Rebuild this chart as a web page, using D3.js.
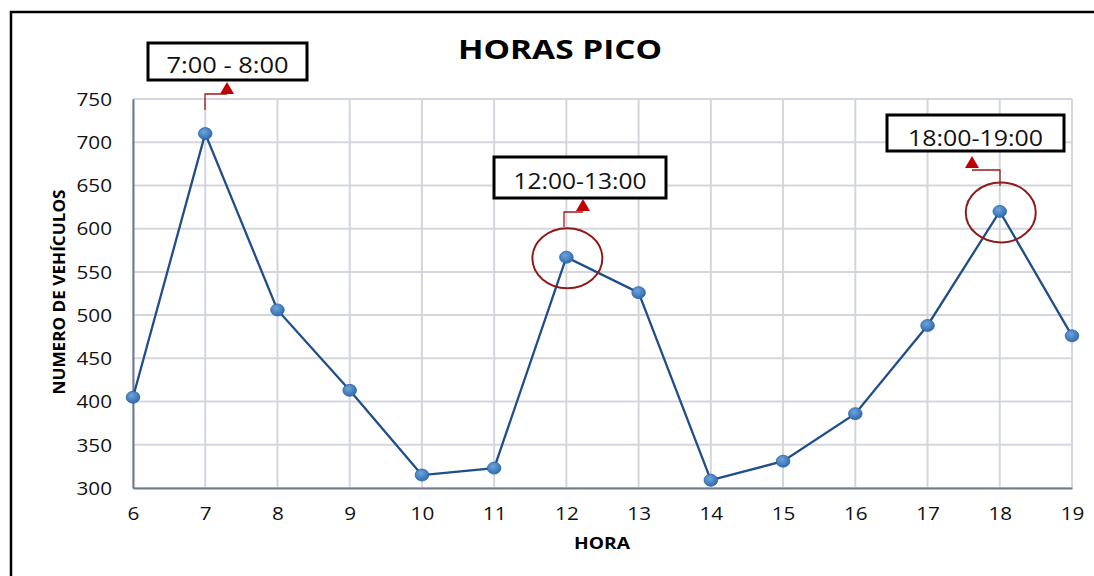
<!DOCTYPE html>
<html><head><meta charset="utf-8">
<script src="https://cdn.jsdelivr.net/npm/d3@7"></script>
<style>body{margin:0;background:#fff;} svg{display:block;}</style>
</head><body>
<svg id="chart" width="1094" height="576"></svg>
<script>
const hours = [6,7,8,9,10,11,12,13,14,15,16,17,18,19];
const vehicles = [405,710,506,413,315,323,567,526,309,331,386,488,620,476];
const yTicks = [300,350,400,450,500,550,600,650,700,750];
const peakLabels = ["7:00 - 8:00","12:00-13:00","18:00-19:00"];
const peakHours = [7,12,18];
const circledHours = [12,18];

const svg = d3.select("#chart");
const F = "'Open Sans', 'DejaVu Sans', sans-serif";
const m = {l:133, r:1072, t:99, b:488};
const x = d3.scaleLinear().domain([6,19]).range([m.l,m.r]);
const y = d3.scaleLinear().domain([300,750]).range([m.b,m.t]);

// frame
svg.append("rect").attr("x",11).attr("y",12).attr("width",1100).attr("height",600)
  .attr("fill","none").attr("stroke","#000").attr("stroke-width",2.5);

// gridlines
const g = svg.append("g");
g.selectAll("line.h").data(yTicks).join("line")
  .attr("x1",m.l).attr("x2",m.r).attr("y1",d=>y(d)).attr("y2",d=>y(d))
  .attr("stroke","#D3D7DD").attr("stroke-width",2);
g.selectAll("line.v").data(hours).join("line")
  .attr("y1",m.t).attr("y2",m.b).attr("x1",d=>x(d)).attr("x2",d=>x(d))
  .attr("stroke","#D3D7DD").attr("stroke-width",2);

// axes
const xAxis = d3.axisBottom(x).tickValues(hours).tickSize(0).tickPadding(19).tickFormat(d3.format("d"));
const yAxis = d3.axisLeft(y).tickValues(yTicks).tickSize(0).tickPadding(21);
const gx = svg.append("g").attr("transform",`translate(0,${m.b})`).call(xAxis);
const gy = svg.append("g").attr("transform",`translate(${m.l},0)`).call(yAxis);
[gx,gy].forEach(a=>{
  a.select(".domain").attr("stroke","#6D7B8D").attr("stroke-width",2);
  a.selectAll("text").attr("font-family",F).attr("font-size",18).attr("fill","#111")
    .each(function(){ const w=this.getComputedTextLength(); d3.select(this).attr("textLength",w*1.15).attr("lengthAdjust","spacingAndGlyphs"); });
});
gy.selectAll("text").attr("dy","0.35em");

// titles
svg.append("text").attr("x",560).attr("y",59).attr("text-anchor","middle")
  .attr("font-family",F).attr("font-weight","bold").attr("font-size",27)
  .attr("textLength",204).attr("lengthAdjust","spacingAndGlyphs").text("HORAS PICO");
svg.append("text").attr("x",602).attr("y",549).attr("text-anchor","middle")
  .attr("font-family",F).attr("font-weight","bold").attr("font-size",16)
  .attr("textLength",56).attr("lengthAdjust","spacingAndGlyphs").text("HORA");
svg.append("text").attr("transform","translate(65,292) rotate(-90)").attr("text-anchor","middle")
  .attr("font-family",F).attr("font-weight","bold").attr("font-size",16.5)
  .attr("textLength",205).attr("lengthAdjust","spacingAndGlyphs").text("NUMERO DE VEHÍCULOS");

// line
const data = hours.map((h,i)=>({h, v:vehicles[i]}));
svg.append("path").datum(data)
  .attr("d", d3.line().x(d=>x(d.h)).y(d=>y(d.v)))
  .attr("fill","none").attr("stroke","#1F4E89").attr("stroke-width",2.3);

const defs = svg.append("defs");
const grad = defs.append("radialGradient").attr("id","mk").attr("cx","40%").attr("cy","35%").attr("r","65%");
grad.append("stop").attr("offset","0%").attr("stop-color","#6FA3DA");
grad.append("stop").attr("offset","100%").attr("stop-color","#2F6DB0");
svg.selectAll("ellipse.mk").data(data).join("ellipse")
  .attr("cx",d=>x(d.h)).attr("cy",d=>y(d.v)).attr("rx",6.8).attr("ry",6)
  .attr("fill","url(#mk)").attr("stroke","#2A64A3").attr("stroke-width",0.8);

// circles around peaks
svg.selectAll("ellipse.pk").data(circledHours).join("ellipse")
  .attr("cx",h=>x(h)+1).attr("cy",h=>y(vehicles[hours.indexOf(h)])+1)
  .attr("rx",35).attr("ry",30).attr("fill","none").attr("stroke","#8E1B1B").attr("stroke-width",2);

// annotation boxes + connectors (layout per label)
const ann = [
  {bx:148,by:43,bw:159,bh:37, base:73, tw:122, path:[[205,110],[205,94],[227,94]], tri:[227,82]},
  {bx:494,by:157,bw:172,bh:41, base:189, tw:133, path:[[564,227],[564,212],[583,212]], tri:[583,199]},
  {bx:887,by:115,bw:177,bh:36, base:146, tw:135, path:[[1000,186],[1000,170],[972,170]], tri:[972,156]}
];
ann.forEach((a,i)=>{
  svg.append("path").attr("d",d3.line()(a.path)).attr("fill","none")
    .attr("stroke","#9B1C1C").attr("stroke-width",1.3);
  const [tx,ty]=a.tri;
  svg.append("path").attr("d",`M${tx},${ty}L${tx-7},${ty+12}L${tx+7},${ty+12}Z`).attr("fill","#C00000");
  svg.append("rect").attr("x",a.bx).attr("y",a.by).attr("width",a.bw).attr("height",a.bh)
    .attr("fill","#fff").attr("stroke","#000").attr("stroke-width",3);
  svg.append("text").attr("x",a.bx+a.bw/2).attr("y",a.base)
    .attr("text-anchor","middle").attr("font-family",F).attr("font-size",21).attr("fill","#111")
    .attr("textLength",a.tw).attr("lengthAdjust","spacingAndGlyphs")
    .text(peakLabels[i]);
});
</script>
</body></html>
